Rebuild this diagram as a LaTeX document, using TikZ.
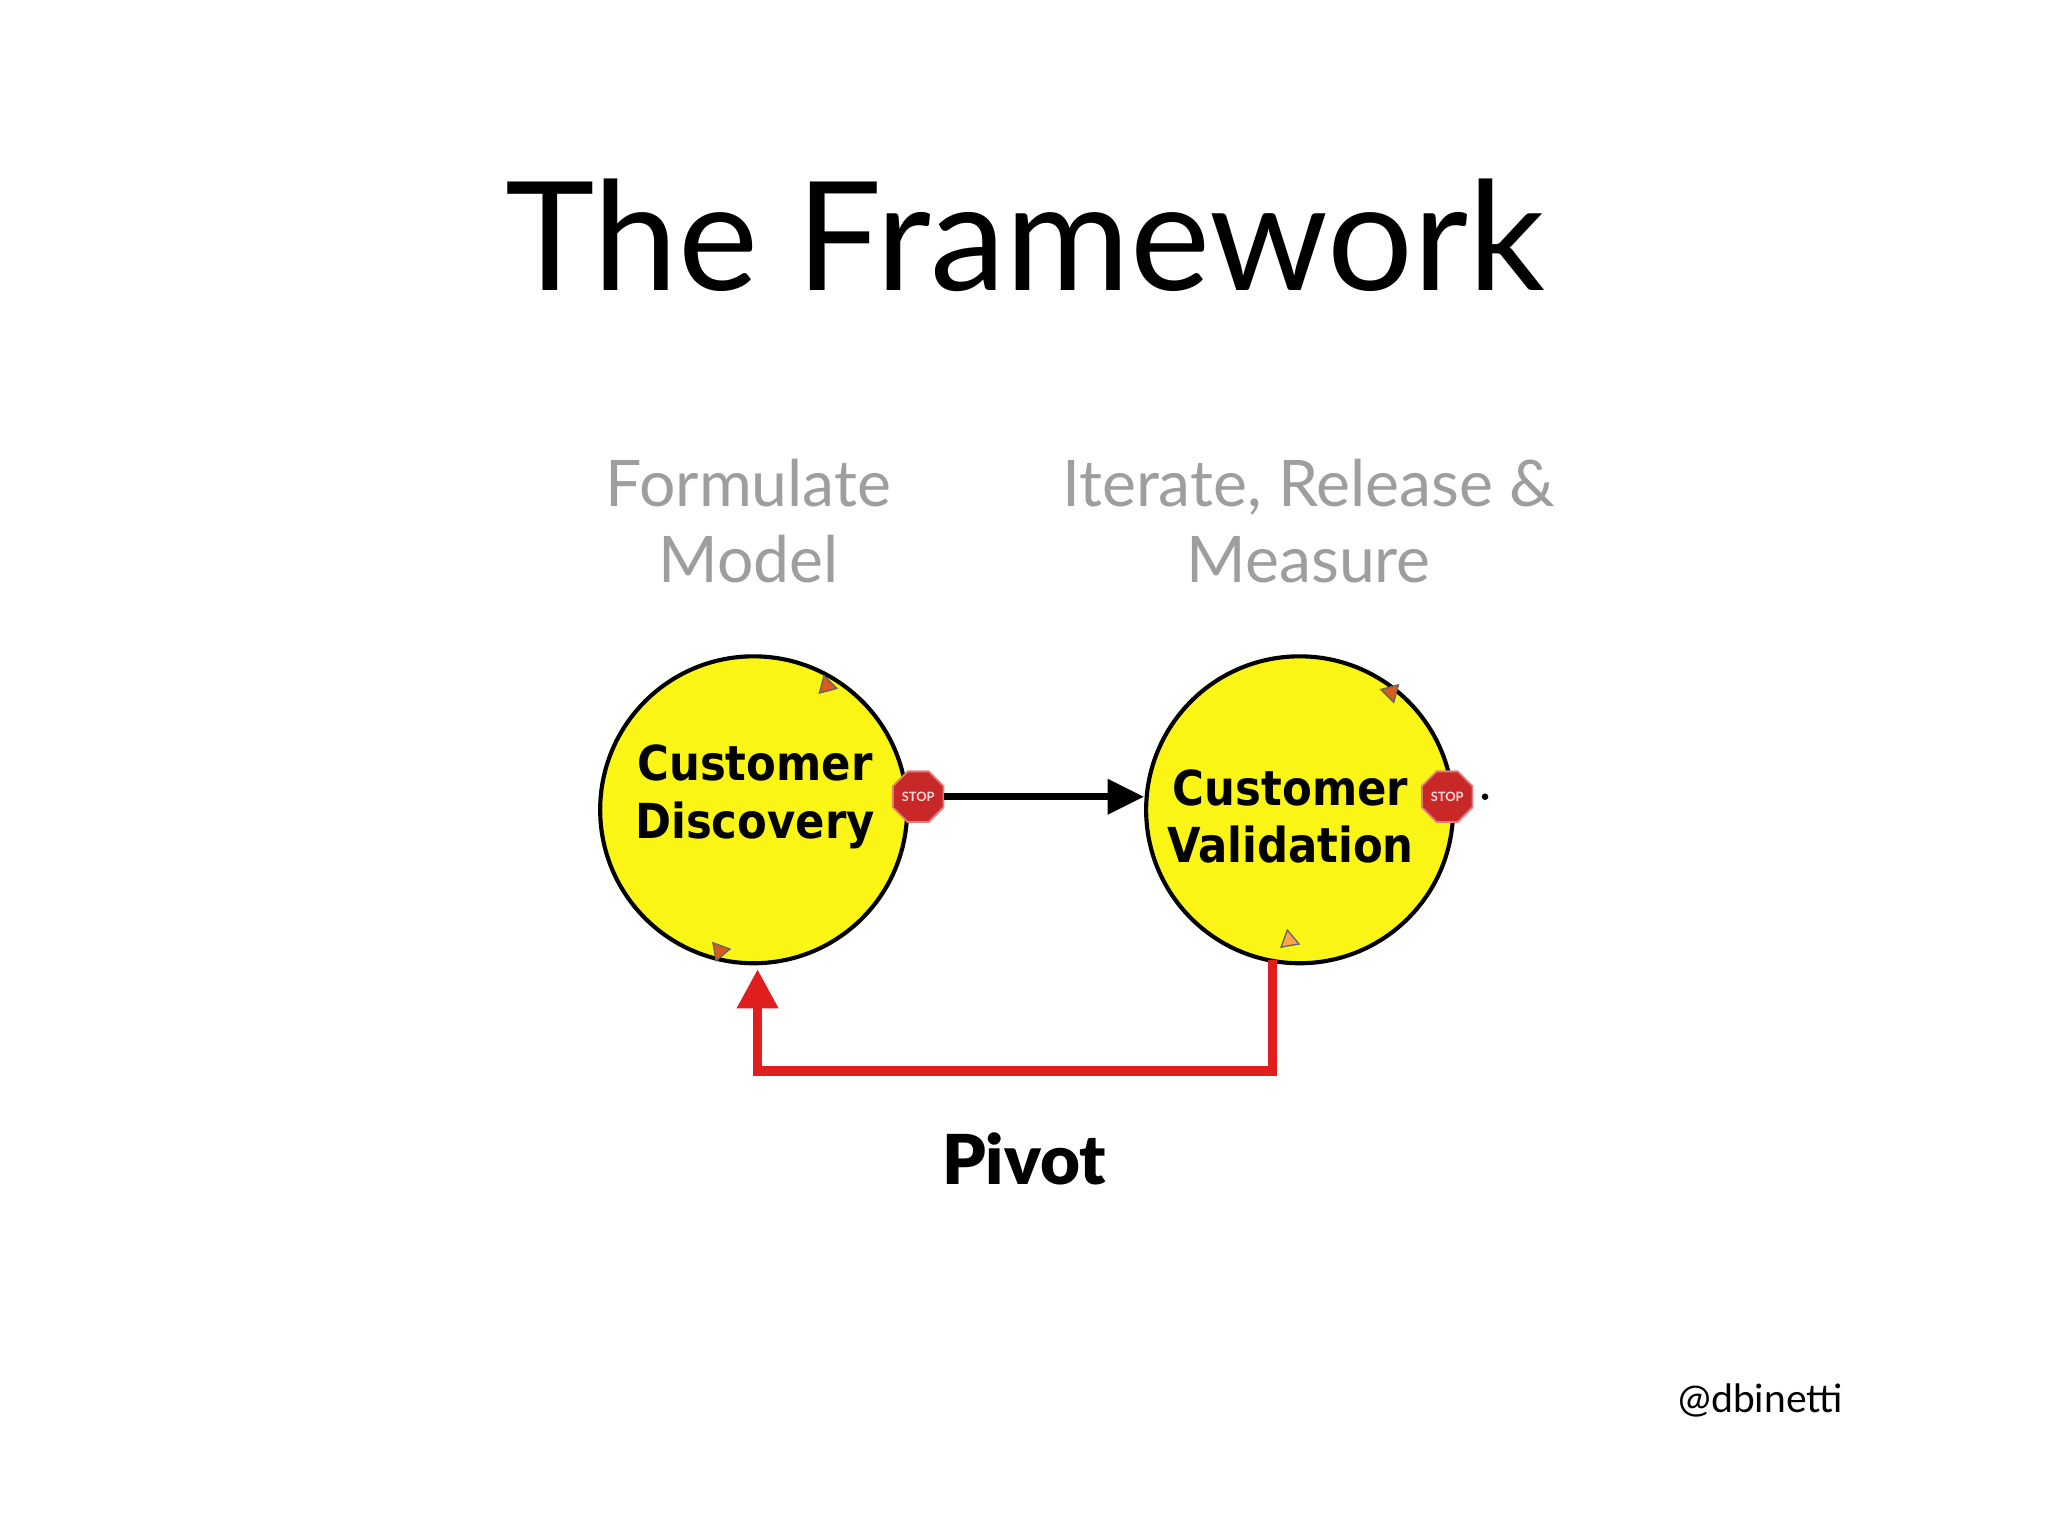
\documentclass[tikz,border=0pt]{standalone}
\usepackage{fontspec}
\setmainfont{Lato}
\newfontfamily\cfont{DejaVu Sans Condensed}
\newfontfamily\blackfont{Lato Black}
\usetikzlibrary{arrows.meta,shapes.geometric}
\definecolor{cyel}{RGB}{250,245,20}
\definecolor{stopred}{RGB}{200,40,40}
\definecolor{pivred}{RGB}{225,30,30}
\definecolor{tri}{RGB}{220,90,30}
\tikzset{
 cyc/.style={circle,draw=black,line width=0.9pt,fill=cyel,minimum size=2.35cm,inner sep=0pt},
 stopsign/.style={regular polygon,regular polygon sides=8,fill=stopred,draw=stopred!60!white,line width=0.4pt,minimum size=0.42cm,inner sep=0pt,text=white!85!red,font=\fontsize{2.8}{3}\selectfont\bfseries},
 ctext/.style={font=\cfont\bfseries\fontsize{10.5}{12.5}\selectfont,align=center},
 gray/.style={text=black!38,font=\fontsize{14}{16.5}\selectfont,align=center},
 tmark/.style={fill=tri,draw=black!60,line width=0.3pt,isosceles triangle,minimum size=0.12cm,inner sep=0pt,isosceles triangle apex angle=60}
}
\begin{document}
\begin{tikzpicture}[x=1cm,y=-1cm]
\useasboundingbox (0,0) rectangle (15.68,11.76);
\fill[white] (0,0) rectangle (15.68,11.76);
\node (title) at (7.85,1.80) {\fontsize{33}{38}\selectfont The Framework};
\node[gray] (f) at (5.73,3.99) {Formulate\\Model};
\node[gray] (i) at (10.02,3.99) {Iterate, Release \&\\Measure};
\node[cyc] (c1) at (5.77,6.20) {};
\node[cyc] (c2) at (9.95,6.20) {};
\node[ctext] (t1) at (5.78,6.10) {Customer\\Discovery};
\node[ctext] (t2) at (9.88,6.25) {Customer\\Validation};
\node[tmark,rotate=-15] (m1) at (6.33,5.25) {};
\node[tmark,rotate=10] (m2) at (5.51,7.28) {};
\node[tmark,rotate=165] (m3) at (10.65,5.30) {};
\node[tmark,rotate=-20,fill=orange!70] (m4) at (9.87,7.20) {};
\node[stopsign] (s1) at (7.03,6.10) {STOP};
\node[stopsign] (s2) at (11.08,6.10) {STOP};
\coordinate (dot) at (11.37,6.10);
\fill (dot) circle (0.025);
\draw[line width=1.6pt,-{Triangle[length=0.28cm,width=0.26cm]}] (s1.east) -- (s1.east -| c2.west);
\coordinate (r0) at (9.74,7.35);
\coordinate (r1) at (9.74,8.20);
\coordinate (r2) at (5.80,8.20);
\coordinate (r3) at (5.80,7.42);
\draw[pivred,line width=2pt,-{Triangle[length=0.3cm,width=0.3cm]}] (r0) -- (r1) -- (r2) -- (r3);
\node (pivot) at (7.84,8.87) {\blackfont\fontsize{15}{18}\selectfont Pivot};
\node (at) at (13.48,10.72) {\fontsize{8.5}{10}\selectfont @dbinetti};
\end{tikzpicture}
\end{document}
